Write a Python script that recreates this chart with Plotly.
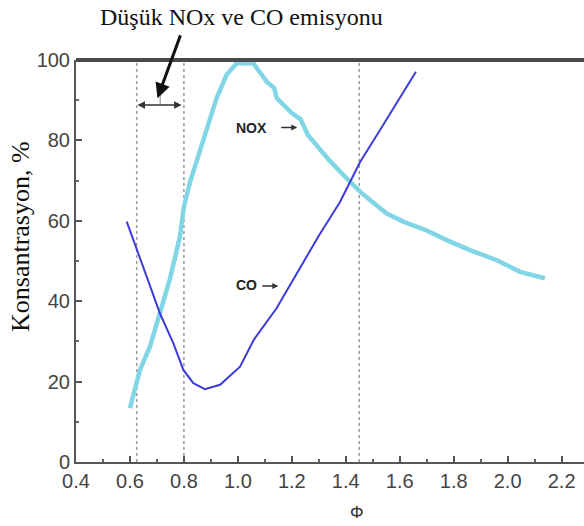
import plotly.graph_objects as go

# NOx curve (phi, %)
nox_phi = [0.60, 0.637, 0.674, 0.711, 0.748, 0.785, 0.80, 0.823, 0.872, 0.921, 0.958, 0.996,
           1.057, 1.082, 1.107, 1.135, 1.144, 1.20, 1.232, 1.26, 1.30, 1.341, 1.403, 1.452,
           1.50, 1.552, 1.613, 1.65, 1.70, 1.774, 1.86, 1.96, 2.046, 2.138]
nox_val = [13.4, 22.9, 28.7, 37.0, 45.5, 56.0, 63.5, 69.7, 80.5, 90.5, 96.3, 99.2,
           99.2, 97.1, 94.6, 93.0, 90.5, 86.8, 85.3, 81.3, 78.2, 74.9, 70.6, 67.3,
           64.6, 61.8, 59.8, 58.8, 57.6, 55.2, 52.7, 50.2, 47.3, 45.7]

# CO curve (phi, %)
co_phi = [0.588, 0.625, 0.662, 0.711, 0.761, 0.798, 0.835, 0.878, 0.934, 1.008, 1.06,
          1.144, 1.23, 1.30, 1.378, 1.452, 1.527, 1.588, 1.66]
co_val = [59.8, 52.7, 46.1, 37.0, 29.5, 22.9, 19.6, 18.1, 19.2, 23.7, 30.5,
          38.3, 48.3, 56.3, 64.6, 74.5, 82.6, 89.2, 97.1]

# reference lines
vlines = [0.625, 0.80, 1.45]
x_ticks = [0.4, 0.6, 0.8, 1.0, 1.2, 1.4, 1.6, 1.8, 2.0, 2.2]
x_labels = ["0.4", "0.6", "0.8", "1.0", "1.2", "1.4", "1.6", "1.8", "2.0", "2.2"]
y_ticks = [0, 20, 40, 60, 80, 100]

fig = go.Figure()
fig.add_trace(go.Scatter(x=nox_phi, y=nox_val, mode="lines",
                         line=dict(color="#80d6e4", width=4.5), showlegend=False))
fig.add_trace(go.Scatter(x=co_phi, y=co_val, mode="lines",
                         line=dict(color="#3c3cdc", width=2), showlegend=False))

shapes = []
tops = [104.3, 104.3, 100]
for xv, t in zip(vlines, tops):
    shapes.append(dict(type="line", xref="x", yref="y", x0=xv, x1=xv, y0=0, y1=t,
                       line=dict(color="#9a9a9a", width=1.5, dash="dot"), layer="below"))
# top frame (thick)
shapes.append(dict(type="line", xref="paper", yref="paper", x0=0, x1=1, y0=1, y1=1,
                   line=dict(color="#4a4a4a", width=4)))
# small tick at center of double arrow
shapes.append(dict(type="line", xref="x", yref="y", x0=0.712, x1=0.712, y0=88.8, y1=91.3,
                   line=dict(color="#888888", width=1)))

annotations = [
    dict(text="Düşük NOx ve CO emisyonu", xref="paper", yref="paper", x=(241 - 76) / 508,
         y=(462 - 17) / 402, xanchor="center", yanchor="middle", showarrow=False,
         font=dict(family="Liberation Serif", size=24, color="#111111")),
    # big arrow
    dict(text="", x=0.702, y=90.5, xref="x", yref="y", ax=0.789, ay=106.5, axref="x", ayref="y",
         showarrow=True, arrowhead=2, arrowsize=1, arrowwidth=3, arrowcolor="#111111"),
    # double arrow
    dict(text="", x=0.628, y=88.8, xref="x", yref="y", ax=0.797, ay=88.8, axref="x", ayref="y",
         showarrow=True, arrowhead=2, startarrowhead=2, arrowside="end+start",
         arrowsize=1, startarrowsize=1, arrowwidth=1.5, arrowcolor="#333333"),
    # NOX label
    dict(text="<b>NOX</b>", x=1.052, y=83, xref="x", yref="y", showarrow=False,
         font=dict(family="Liberation Sans", size=14, color="#222222")),
    dict(text="", x=1.22, y=83.2, xref="x", yref="y", ax=1.155, ay=83.2, axref="x", ayref="y",
         showarrow=True, arrowhead=2, arrowsize=0.8, arrowwidth=1.5, arrowcolor="#333333"),
    # CO label
    dict(text="<b>CO</b>", x=1.033, y=44, xref="x", yref="y", showarrow=False,
         font=dict(family="Liberation Sans", size=14, color="#222222")),
    dict(text="", x=1.15, y=43.8, xref="x", yref="y", ax=1.085, ay=43.8, axref="x", ayref="y",
         showarrow=True, arrowhead=2, arrowsize=0.8, arrowwidth=1.5, arrowcolor="#333333"),
    # x axis title
    dict(text="Φ", xref="x", yref="paper", x=1.44, y=-50 / 402, xanchor="center",
         yanchor="middle", showarrow=False,
         font=dict(family="Liberation Sans", size=17, color="#333333")),
    # y axis title
    dict(text="Konsantrasyon, %", xref="paper", yref="paper", x=(20 - 76) / 508,
         y=(462 - 237) / 402, xanchor="center", yanchor="middle",
         textangle=-90, showarrow=False,
         font=dict(family="Liberation Serif", size=26, color="#111111")),
]

fig.update_layout(
    width=584, height=526,
    margin=dict(l=76, r=0, t=60, b=64),
    paper_bgcolor="white", plot_bgcolor="white",
    shapes=shapes, annotations=annotations,
    xaxis=dict(range=[0.4, 2.283], tickmode="array", tickvals=x_ticks, ticktext=x_labels,
               ticks="inside", ticklen=6, tickcolor="#555555", tickwidth=1.5,
               minor=dict(dtick=0.1, tick0=0.4, ticks="inside", ticklen=3, tickcolor="#666666"),
               showline=True, linecolor="#555555", linewidth=2, showgrid=False, zeroline=False,
               tickfont=dict(family="Liberation Sans", size=20, color="#444444")),
    yaxis=dict(range=[0, 100], tickmode="array", tickvals=y_ticks,
               ticks="inside", ticklen=6, tickcolor="#555555", tickwidth=1.5,
               minor=dict(dtick=10, tick0=0, ticks="inside", ticklen=3, tickcolor="#666666"),
               showline=True, linecolor="#555555", linewidth=2, showgrid=False, zeroline=False,
               tickfont=dict(family="Liberation Sans", size=20, color="#444444")),
)

fig.write_html("out.html")
